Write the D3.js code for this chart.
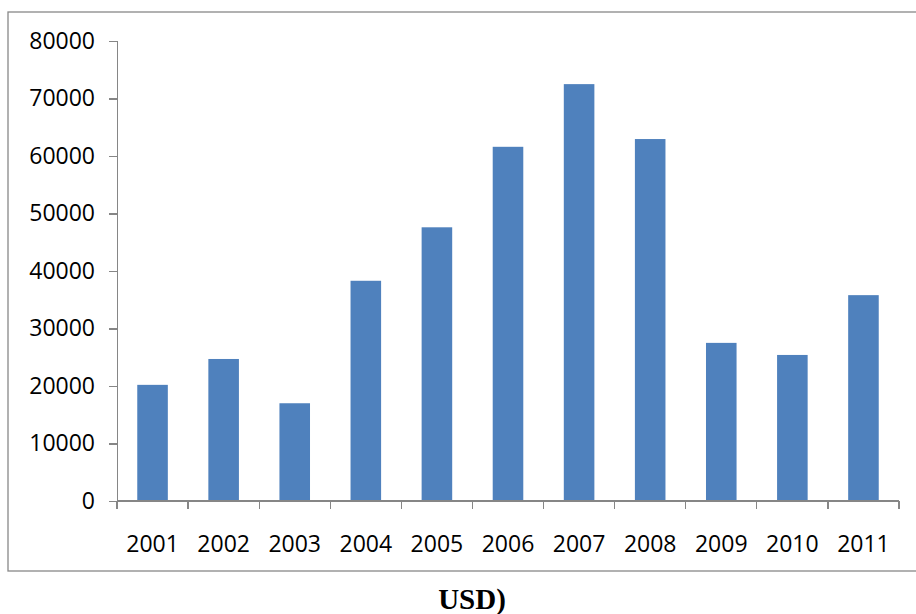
<!DOCTYPE html>
<meta charset="utf-8">
<style>
body{
    margin:0;
    background:#fff;
}
.axis text{
    font-family:"Open Sans", sans-serif;
    font-size:23px;
    fill:#000;
}
.axis path, .axis line{
    stroke:#868686;
    stroke-width:1.3px;
    shape-rendering:crispEdges;
}
.bar{
    fill:#4F81BD;
}
#frame{
    fill:none;
    stroke:#888;
    stroke-width:1.3px;
}
#title{
    font-family:"Liberation Serif", "Times New Roman", serif;
    font-weight:bold;
    font-size:29px;
    text-anchor:middle;
}
</style>
<body>
<script src="https://d3js.org/d3.v7.min.js"></script>
<script>
var years = ['2001','2002','2003','2004','2005','2006','2007','2008','2009','2010','2011'];
var values = [20200, 24700, 17000, 38300, 47600, 61600, 72500, 62950, 27500, 25400, 35800];
var yTicks = [0, 10000, 20000, 30000, 40000, 50000, 60000, 70000, 80000];

var svgW = 916, svgH = 614;
var plotL = 117, plotR = 899, plotT = 41, plotB = 501;

var svg = d3.select("body").append("svg")
    .attr("width", svgW).attr("height", svgH);

// outer chart frame
svg.append("rect").attr("id","frame")
    .attr("x", 8).attr("y", 12)
    .attr("width", 912).attr("height", 559);

var x = d3.scaleBand().domain(years).range([plotL, plotR]).paddingInner(0.57).paddingOuter(0.285);
var y = d3.scaleLinear().domain([0, 80000]).range([plotB, plotT]);

svg.append("g").selectAll("rect")
    .data(values).enter()
    .append("rect")
    .attr("class","bar")
    .attr("x", function(d,i){ return x(years[i]); })
    .attr("y", function(d){ return y(d); })
    .attr("width", x.bandwidth())
    .attr("height", function(d){ return plotB - y(d); });

var yAxis = svg.append("g").attr("class","axis")
    .attr("transform","translate(" + plotL + ",0)")
    .call(d3.axisLeft(y).tickValues(yTicks).tickFormat(d3.format("d")).tickSizeOuter(0).tickSize(8).tickPadding(14));

// x axis: ticks on category boundaries
var xb = d3.scaleLinear().domain([0, years.length]).range([plotL, plotR]);
var xAxis = svg.append("g").attr("class","axis")
    .attr("transform","translate(0," + plotB + ")");
xAxis.append("path").attr("d","M" + plotL + ",0H" + plotR);
xAxis.selectAll("line").data(d3.range(years.length + 1)).enter()
    .append("line")
    .attr("x1", function(d){ return xb(d); }).attr("x2", function(d){ return xb(d); })
    .attr("y1", 0).attr("y2", 8);
xAxis.selectAll("text").data(years).enter()
    .append("text")
    .attr("x", function(d){ return x(d) + x.bandwidth()/2; })
    .attr("y", 51)
    .attr("text-anchor","middle")
    .text(function(d){ return d; });

svg.append("text").attr("id","title")
    .attr("x", 472).attr("y", 609)
    .text("USD)");
</script>
